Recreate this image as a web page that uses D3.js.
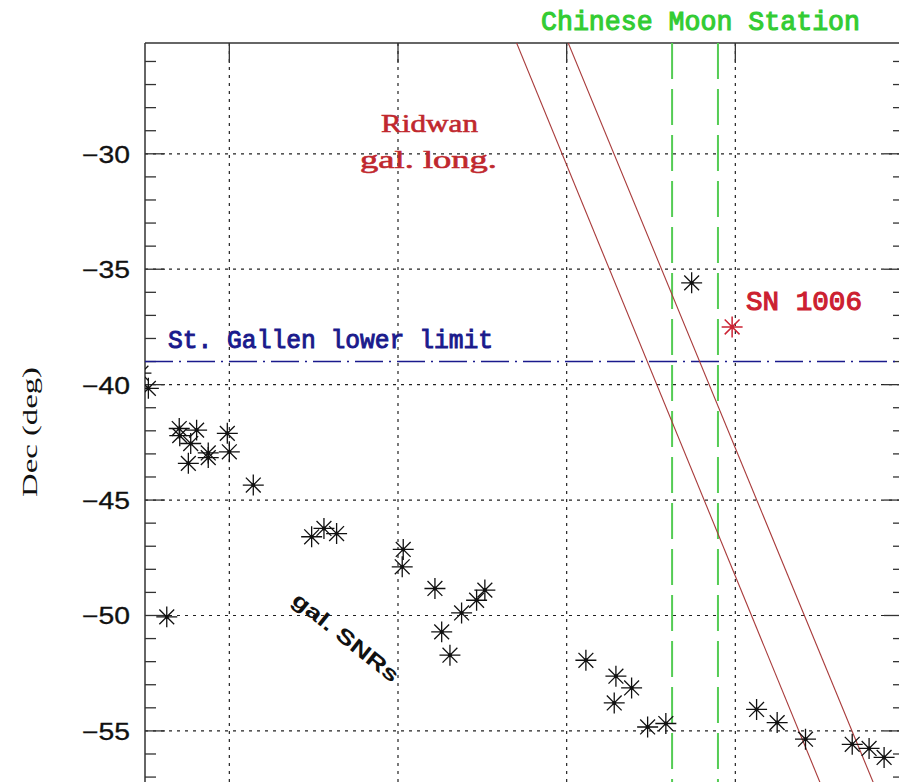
<!DOCTYPE html>
<html>
<head>
<meta charset="utf-8">
<script src="https://cdn.jsdelivr.net/npm/d3@7"></script>
<style>
  html, body { margin: 0; padding: 0; background: #fff; }
  svg { display: block; }
</style>
</head>
<body>
<svg id="chart" width="899" height="782"></svg>
<script>
// Galactic supernova remnants, RA / Dec in degrees (epoch 1006)
const snrRA  = [245.24, 244.80, 242.97, 242.94, 241.94, 242.29, 242.43, 241.25, 241.25,
                240.12, 240.00, 238.58, 235.12, 234.39, 233.64, 229.69, 229.75, 227.81,
                243.71, 227.41, 226.92, 226.23, 225.34, 224.85, 218.86, 217.08, 216.15,
                217.18, 215.20, 214.12, 212.59, 208.74, 207.52, 205.84, 203.07, 202.07, 201.18];
const snrDec = [-39.50, -40.16, -41.90, -42.21, -41.97, -42.55, -43.41, -42.96, -43.16,
                -42.11, -42.91, -44.35, -46.59, -46.23, -46.45, -47.14, -47.89, -48.83,
                -50.06, -50.71, -51.72, -49.89, -49.34, -48.90, -51.94, -52.63, -53.14,
                -53.79, -54.83, -54.68, -35.59, -54.07, -54.64, -55.36, -55.58, -55.76, -56.15];

// SN 1006 position
const sn1006RA  = [210.19];
const sn1006Dec = [-37.50];

// Lower declination limit seen from St. Gallen
const stGallenDec = [-39.0];

// Boundaries of the Chinese lunar mansion
const moonStationRA = [213.75, 211.03];

// Lines of galactic longitude from Ridwan's description (RA, Dec pairs)
const ridwanA_RA  = [223.08, 204.55];
const ridwanA_Dec = [-25.0, -58.0];
const ridwanB_RA  = [220.02, 201.39];
const ridwanB_Dec = [-25.0, -58.0];

// Axis ticks
const decTicks = [-30, -35, -40, -45, -50, -55];
const raTicks  = [240, 230, 220, 210];

const svg = d3.select("#chart");

const pLeft = 145, pTop = 43, pRight = 904, pBottom = 784;

const x = d3.scaleLinear().domain([245, 200]).range([pLeft, pRight]);
const y = d3.scaleLinear().domain([-25.2, -57.3]).range([pTop, pBottom]);

const decMinor = d3.range(Math.ceil(y.domain()[1]), Math.floor(y.domain()[0]) + 1, 1)
  .filter(d => !decTicks.includes(d));

svg.append("defs").append("clipPath").attr("id", "plotClip")
  .append("rect").attr("x", pLeft).attr("y", pTop)
  .attr("width", pRight - pLeft).attr("height", pBottom - pTop);

// Dotted grid
const grid = svg.append("g").attr("stroke", "#222").attr("stroke-width", 1.2)
  .attr("stroke-dasharray", "3,5").attr("fill", "none");
grid.selectAll("line.h").data(decTicks).join("line").attr("class", "h")
  .attr("x1", pLeft).attr("x2", pRight)
  .attr("y1", d => y(d)).attr("y2", d => y(d));
grid.selectAll("line.v").data(raTicks).join("line").attr("class", "v")
  .attr("y1", pTop).attr("y2", pBottom)
  .attr("x1", d => x(d)).attr("x2", d => x(d));

// Frame and inward ticks
const frame = svg.append("g").attr("stroke", "#333").attr("stroke-width", 1.5).attr("fill", "none");
frame.append("line").attr("x1", pLeft).attr("x2", pRight).attr("y1", pTop).attr("y2", pTop);
frame.append("line").attr("x1", pLeft).attr("x2", pLeft).attr("y1", pTop).attr("y2", pBottom);
frame.append("line").attr("x1", pRight).attr("x2", pRight).attr("y1", pTop).attr("y2", pBottom);

const ticks = svg.append("g").attr("stroke", "#333").attr("stroke-width", 1.3);
ticks.selectAll("line.lmaj").data(decTicks).join("line").attr("class", "lmaj")
  .attr("x1", pLeft).attr("x2", pLeft + 20).attr("y1", d => y(d)).attr("y2", d => y(d));
ticks.selectAll("line.lmin").data(decMinor).join("line").attr("class", "lmin")
  .attr("x1", pLeft).attr("x2", pLeft + 11).attr("y1", d => y(d)).attr("y2", d => y(d));
ticks.selectAll("line.rmaj").data(decTicks).join("line").attr("class", "rmaj")
  .attr("x1", pRight).attr("x2", pRight - 20).attr("y1", d => y(d)).attr("y2", d => y(d));
ticks.selectAll("line.rmin").data(decMinor).join("line").attr("class", "rmin")
  .attr("x1", pRight).attr("x2", pRight - 11).attr("y1", d => y(d)).attr("y2", d => y(d));
ticks.selectAll("line.tmaj").data(raTicks).join("line").attr("class", "tmaj")
  .attr("x1", d => x(d)).attr("x2", d => x(d)).attr("y1", pTop).attr("y2", pTop + 20);

// Dec tick labels
svg.append("g").selectAll("text").data(decTicks).join("text")
  .attr("x", 130).attr("y", d => y(d) + 1)
  .attr("text-anchor", "end").attr("dominant-baseline", "central")
  .attr("font-family", "Liberation Sans, Arial, sans-serif").attr("font-size", 23)
  .attr("textLength", 48).attr("lengthAdjust", "spacingAndGlyphs")
  .attr("fill", "#111").attr("stroke", "#111").attr("stroke-width", 0.3)
  .text(d => "\u2212" + Math.abs(d));

// Axis title
svg.append("text")
  .attr("transform", "translate(37,432) rotate(-90)")
  .attr("text-anchor", "middle")
  .attr("font-family", "Liberation Serif, Times New Roman, serif").attr("font-size", 22)
  .attr("textLength", 130).attr("lengthAdjust", "spacingAndGlyphs")
  .attr("fill", "#111")
  .text("Dec (deg)");

const plot = svg.append("g").attr("clip-path", "url(#plotClip)");

// St. Gallen lower limit (dash-dot)
plot.selectAll("line.gallen").data(stGallenDec).join("line").attr("class", "gallen")
  .attr("x1", pLeft).attr("x2", pRight)
  .attr("y1", d => y(d)).attr("y2", d => y(d))
  .attr("stroke", "#1a1a8c").attr("stroke-width", 1.5)
  .attr("stroke-dasharray", "28,6,2,6");

// Lunar mansion boundaries (dashed green)
plot.selectAll("line.moon").data(moonStationRA).join("line").attr("class", "moon")
  .attr("x1", d => x(d)).attr("x2", d => x(d))
  .attr("y1", pTop).attr("y2", pBottom)
  .attr("stroke", "#55cc55").attr("stroke-width", 2)
  .attr("stroke-dasharray", "36,10");

// Ridwan galactic longitude lines
const lineGen = d3.line().x(d => x(d[0])).y(d => y(d[1]));
[[ridwanA_RA, ridwanA_Dec], [ridwanB_RA, ridwanB_Dec]].forEach(([ra, dec]) => {
  plot.append("path")
    .attr("d", lineGen(d3.zip(ra, dec)))
    .attr("fill", "none").attr("stroke", "#a83a3a").attr("stroke-width", 1.1);
});

// Asterisk marker
const asterisk = {
  draw(ctx, size) {
    const r = Math.sqrt(size) / 2;
    for (let k = 0; k < 4; k++) {
      const a = k * Math.PI / 4;
      const dx = r * Math.cos(a), dy = r * Math.sin(a);
      ctx.moveTo(-dx, -dy);
      ctx.lineTo(dx, dy);
    }
  }
};
const star = d3.symbol().type(asterisk).size(440);

const snr = d3.zip(snrRA, snrDec);
const marks = plot.append("g");
marks.selectAll("path").data(snr).join("path")
  .attr("transform", d => `translate(${x(d[0])},${y(d[1])})`)
  .attr("d", star).attr("fill", "none").attr("stroke", "#111").attr("stroke-width", 1.3);
marks.selectAll("circle").data(snr).join("circle")
  .attr("cx", d => x(d[0])).attr("cy", d => y(d[1])).attr("r", 2).attr("fill", "#111");

const sn = d3.zip(sn1006RA, sn1006Dec);
plot.append("g").selectAll("path").data(sn).join("path")
  .attr("transform", d => `translate(${x(d[0])},${y(d[1])})`)
  .attr("d", star).attr("fill", "none").attr("stroke", "#cc2233").attr("stroke-width", 1.5);

// Annotations
const mono = "Liberation Mono, Courier New, monospace";
function label(txt, px, py, opts) {
  return svg.append("text").attr("x", px).attr("y", py)
    .attr("font-family", opts.family).attr("font-size", opts.size)
    .attr("textLength", opts.length).attr("lengthAdjust", "spacingAndGlyphs")
    .attr("fill", opts.color).attr("stroke", opts.color).attr("stroke-width", opts.stroke)
    .text(txt);
}
label("Chinese Moon Station", 541, 30, {family: mono, size: 27, length: 319, color: "#33cc33", stroke: 1.1});
label("SN 1006", 746, 310, {family: mono, size: 27, length: 116, color: "#cc2030", stroke: 1.1});
label("St. Gallen lower limit", 168, 348, {family: mono, size: 26, length: 325, color: "#1a1a8c", stroke: 1.0});

const serif = "Liberation Serif, Times New Roman, serif";
label("Ridwan", 381, 132, {family: serif, size: 25, length: 97, color: "#c0282e", stroke: 0.6});
label("gal. long.", 360, 168, {family: serif, size: 25, length: 137, color: "#c0282e", stroke: 0.6});

svg.append("text")
  .attr("transform", "translate(346,637) rotate(38.5)")
  .attr("text-anchor", "middle").attr("dominant-baseline", "central")
  .attr("font-family", "Liberation Sans, Arial, sans-serif").attr("font-weight", "bold")
  .attr("font-size", 21)
  .attr("textLength", 130).attr("lengthAdjust", "spacingAndGlyphs")
  .attr("fill", "#111").text("gal. SNRs");
</script>
</body>
</html>
